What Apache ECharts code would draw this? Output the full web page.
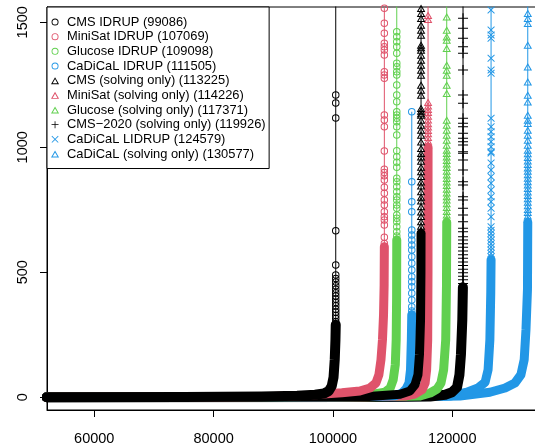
<!DOCTYPE html>
<html><head><meta charset="utf-8">
<script src="https://cdn.jsdelivr.net/npm/echarts@6/dist/echarts.min.js"></script>
<style>html,body{margin:0;padding:0;background:#fff}#c{width:535px;height:447px}</style>
</head><body><div id="c"></div>
<script>
// ---------- data ----------
const seriesNames = [
  'CMS IDRUP (99086)', 'MiniSat IDRUP (107069)', 'Glucose IDRUP (109098)', 'CaDiCaL IDRUP (111505)',
  'CMS (solving only) (113225)', 'MiniSat (solving only) (114226)', 'Glucose (solving only) (117371)',
  'CMS\u22122020 (solving only) (119926)', 'CaDiCaL LIDRUP (124579)', 'CaDiCaL (solving only) (130577)'
];
const xTicks = [60000, 80000, 100000, 120000];
const yTicks = [0, 500, 1000, 1500];

// dense (flat + knee) part of each curve: [solved, time]
const cmsIdrupDense = [[52000,0],[75000,1],[88000,3],[94000,6],[97000,10],[98500,15],[99300,25],[99800,45],[100100,80],[100300,150],[100420,230],[100470,290]];
const minisatIdrupDense = [[52000,0],[80000,1],[90000,3],[96000,8],[99000,14],[101500,18],[104500,25],[106200,37],[107200,57],[107700,90],[108050,150],[108300,230],[108480,330],[108580,450],[108615,602]];
const glucoseIdrupDense = [[52000,0],[85000,1],[96000,3],[102000,5],[106200,10],[108700,20],[109600,37],[110100,70],[110450,130],[110600,230],[110670,400],[110695,629]];
const cadicalIdrupDense = [[52000,0],[90000,1],[100000,2],[106000,3],[110400,6],[111600,17],[112250,33],[112750,57],[113000,110],[113140,230],[113210,330]];
const cmsSolveDense = [[52000,0],[90000,1],[100000,2],[106000,3],[111250,12],[112900,25],[113750,50],[114250,90],[114500,170],[114680,310],[114750,500],[114765,656]];
const minisatSolveDense = [[52000,0],[95000,1],[105000,2],[112100,5],[113750,13],[114950,30],[115450,57],[115700,110],[115880,230],[115930,500],[115940,1000]];
const glucoseSolveDense = [[52000,0],[100000,1],[110000,3],[114600,5],[116300,17],[117450,33],[118100,57],[118550,110],[118900,230],[119030,450],[119070,700]];
const cms2020Dense = [[52000,0],[104000,1],[112000,2],[116300,3],[118800,10],[119950,20],[120800,40],[121200,90],[121450,170],[121680,310],[121780,440]];
const cadicalLidrupDense = [[52000,0],[105000,1],[114000,3],[119600,5],[122450,20],[124300,37],[125500,60],[126000,110],[126300,230],[126450,420],[126500,550]];
const cadicalSolveDense = [[52000,0],[108000,1],[116000,3],[121300,5],[126300,20],[128850,37],[130500,57],[131500,90],[132050,150],[132350,270],[132600,430],[132650,700]];

// steep part: x where each curve goes vertical, and the times of the separate markers there
const verticalX = [100470, 108615, 110695, 113210, 114765, 115940, 119070, 121800, 126500, 132650];
const cmsIdrupTop = [290,302,315,327,340,352,366,379,392,405,418,432,446,461,475,489,529,666,1117,1177,1209,1600];
const minisatIdrupTop = [615,640,689,709,722,742,769,789,816,840,869,886,899,912,985,1082,1109,1129,1276,1289,1302,1369,1389,1402,1416,1456,1496,1556,1600];
const glucoseIdrupTop = [645,662,682,702,716,729,756,769,789,802,822,842,862,876,920,940,962,986,1049,1082,1102,1116,1129,1142,1182,1209,1249,1289,1302,1322,1336,1376,1402,1422,1442,1462,1600];
const cadicalIdrupTop = [345,362,389,416,442,462,482,509,536,562,589,609,629,649,669,742,782,862,1142];
const cmsSolveTop = [668,685,703,724,742,763,786,801,823,846,862,884,903,921,945,962,976,996,1022,1049,1069,1089,1109,1129,1135,1145,1156,1209,1229,1249,1289,1309,1329,1349,1369,1389,1399,1409,1449,1469,1489,1516,1536,1556,1600];
const minisatSolveTop = [1010,1025,1040,1055,1068,1082,1095,1110,1125,1140,1152,1166,1180,1512,1528,1600];
const glucoseSolveTop = [715,730,744,760,775,790,803,818,833,848,862,876,890,905,920,934,948,962,976,989,1009,1029,1049,1069,1089,1109,1216,1249,1289,1309,1329,1396,1429,1442,1469,1522,1600];
const cms2020Top = [455,470,484,498,512,527,541,556,570,585,600,614,629,642,662,676,702,729,756,789,802,849,862,909,949,976,982,1009,1022,1036,1056,1082,1096,1116,1176,1209,1309,1376,1402,1436,1476,1516,1600];
const cadicalLidrupTop = [562,575,588,601,614,628,641,655,668,682,722,756,782,802,829,856,882,909,937,977,982,1002,1022,1042,1062,1082,1116,1296,1309,1356,1436,1449,1469,1549,1600];
const cadicalSolveTop = [712,726,740,752,767,781,795,808,822,836,850,863,877,891,905,918,932,946,960,975,989,1009,1029,1049,1069,1096,1109,1129,1182,1209,1262,1322,1409,1496,1516,1536,1600];

const denseParts = [cmsIdrupDense, minisatIdrupDense, glucoseIdrupDense, cadicalIdrupDense, cmsSolveDense,
  minisatSolveDense, glucoseSolveDense, cms2020Dense, cadicalLidrupDense, cadicalSolveDense];
const topParts = [cmsIdrupTop, minisatIdrupTop, glucoseIdrupTop, cadicalIdrupTop, cmsSolveTop,
  minisatSolveTop, glucoseSolveTop, cms2020Top, cadicalLidrupTop, cadicalSolveTop];

// ---------- styles ----------
const BLACK = '#000000', RED = '#DF536B', GREEN = '#61D04F', BLUE = '#2297E6';
const RING = 'path://M50,0A50,50,0,1,1,50,100A50,50,0,1,1,50,0ZM50,13A37,37,0,1,0,50,87A37,37,0,1,0,50,13Z';
const TRI = 'path://M50,0L100,86.6L0,86.6ZM50,24L20.8,74.6L79.2,74.6Z';
const PLUS = 'path://M44.5,0H55.5V44.5H100V55.5H55.5V100H44.5V55.5H0V44.5H44.5Z';
const CROSS = 'path://M8.5,0L50,41.5L91.5,0L100,8.5L58.5,50L100,91.5L91.5,100L50,58.5L8.5,100L0,91.5L41.5,50L0,8.5Z';
const colors = [BLACK, RED, GREEN, BLUE, BLACK, RED, GREEN, BLACK, BLUE, BLUE];
const symbols = [RING, RING, RING, RING, TRI, TRI, TRI, PLUS, CROSS, TRI];
const symSizes = [7.5, 7.5, 7.5, 7.5, 8.6, 8.6, 8.6, 10, 7.5, 8.6];
const bandWidths = [10, 9, 9, 9, 9, 9, 9, 10, 9, 9];
const denseOrder = [9, 8, 7, 6, 5, 3, 2, 4, 1, 0];
const topOrder = [9, 8, 7, 6, 5, 4, 3, 2, 1, 0];

const series = [];
denseOrder.forEach(function (i) {
  series.push({
    type: 'line', name: seriesNames[i], data: denseParts[i],
    symbol: 'none', showSymbol: false, clip: true, silent: true, animation: false,
    lineStyle: { color: colors[i], width: bandWidths[i], cap: 'round', join: 'round' },
    itemStyle: { color: colors[i] }
  });
});
topOrder.forEach(function (i) {
  const pts = topParts[i].slice().sort(function (a, b) { return a - b; })
    .map(function (y) { return [verticalX[i], y]; });
  series.push({
    type: 'line', name: seriesNames[i], data: pts,
    symbol: symbols[i], symbolSize: symSizes[i], symbolKeepAspect: true, showAllSymbol: true,
    clip: true, silent: true, animation: false,
    lineStyle: { color: colors[i], width: 1 },
    itemStyle: { color: colors[i], borderWidth: 0 }
  });
});

const FONT = "'Liberation Sans', Arial, Helvetica, sans-serif";
const chart = echarts.init(document.getElementById('c'), null, { renderer: 'canvas' });
chart.setOption({
  animation: false,
  backgroundColor: '#ffffff',
  grid: { left: 47, top: 7, right: -1, bottom: 37, show: true, borderColor: '#000', borderWidth: 1,
          backgroundColor: 'transparent', containLabel: false, outerBoundsMode: 'none' },
  xAxis: {
    type: 'value', min: 52080, max: 134030,
    axisLine: { show: true, onZero: false, lineStyle: { color: '#000', width: 1 } },
    splitLine: { show: false },
    axisTick: { show: true, length: 7, lineStyle: { color: '#000', width: 1 }, customValues: xTicks },
    axisLabel: { customValues: xTicks, margin: 21, fontSize: 14.5, color: '#000', fontFamily: FONT,
                 formatter: function (v) { return String(v); } }
  },
  yAxis: {
    type: 'value', min: -51, max: 1561,
    axisLine: { show: true, onZero: false, lineStyle: { color: '#000', width: 1 } },
    splitLine: { show: false },
    axisTick: { show: true, length: 7, lineStyle: { color: '#000', width: 1 }, customValues: yTicks },
    axisLabel: { customValues: yTicks, margin: 17, rotate: 90, fontSize: 14.5, color: '#000', fontFamily: FONT,
                 formatter: function (v) { return String(v); } }
  },
  legend: {
    orient: 'vertical', left: 47, top: 7, padding: [8, 3.5, 7.5, 4],
    itemWidth: 14, itemHeight: 7, itemGap: 0.67,
    borderColor: '#000', borderWidth: 1, backgroundColor: '#fff', borderRadius: 0,
    selectedMode: false,
    textStyle: { fontFamily: FONT, fontSize: 12.9, color: '#000', lineHeight: 14 },
    itemStyle: { borderWidth: 0 },
    data: seriesNames.map(function (n, i) { return { name: n, icon: symbols[i] }; })
  },
  tooltip: { show: false },
  series: series
});
</script>
</body></html>
